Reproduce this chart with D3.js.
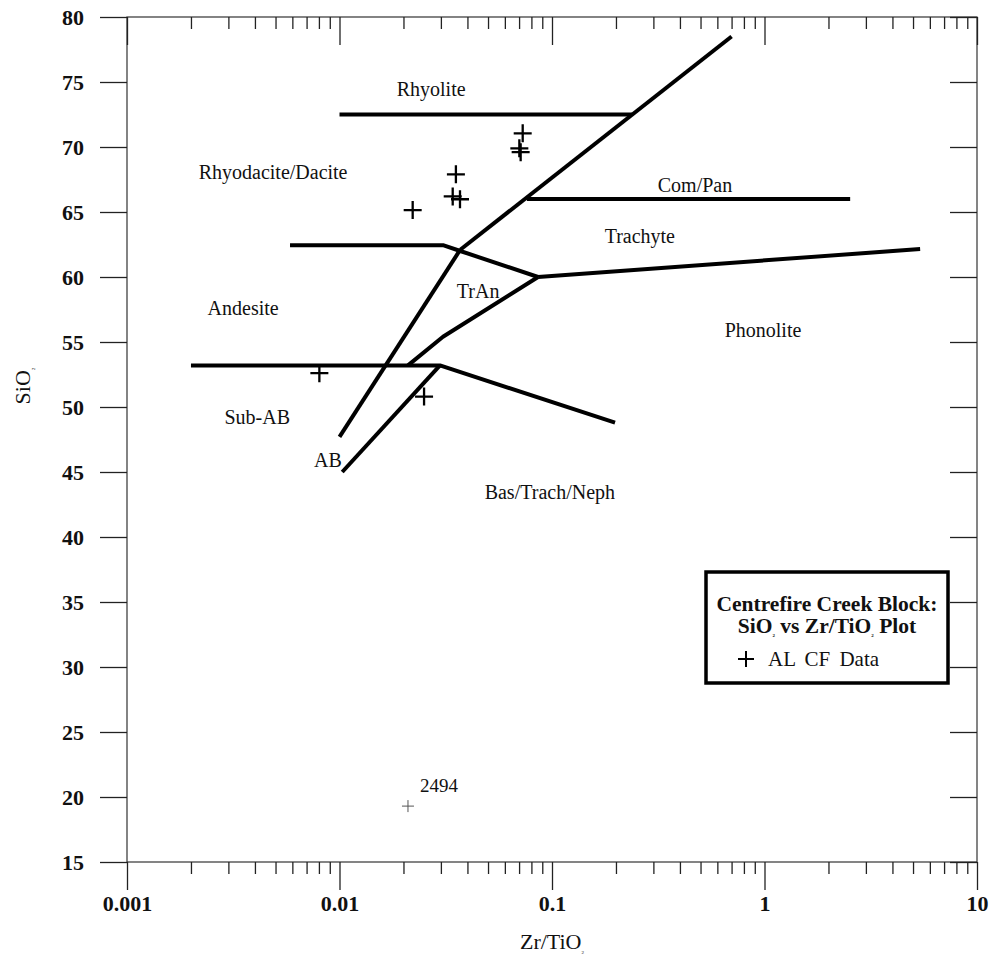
<!DOCTYPE html>
<html><head><meta charset="utf-8">
<script src="https://cdn.jsdelivr.net/npm/d3@7"></script>
<style>body{margin:0;background:#fff}</style>
</head><body>
<svg id="c" width="993" height="975"></svg>
<script>
// ---------- data ----------
const xTickValues = [0.001, 0.01, 0.1, 1, 10];
const xTickLabels = ["0.001", "0.01", "0.1", "1", "10"];
const yTickValues = [15, 20, 25, 30, 35, 40, 45, 50, 55, 60, 65, 70, 75, 80];

// classification boundaries (Zr/TiO2, SiO2)
const lineRhyolite      = [[0.01, 72.5], [0.238, 72.5]];
const lineRhyoTrach     = [[0.037, 62.1], [0.70, 78.5]];
const lineComPan        = [[0.0762, 66.0], [2.53, 66.0]];
const lineTrachPhon     = [[0.086, 60.0], [5.4, 62.15]];
const lineAndesiteTop   = [[0.00585, 62.45], [0.0307, 62.45], [0.037, 62.0], [0.086, 60.0]];
const lineAndesiteTrAn  = [[0.01, 47.7], [0.037, 62.1]];
const lineTrAnLower     = [[0.021, 53.2], [0.0307, 55.4], [0.086, 60.0]];
const lineSubABTop      = [[0.002, 53.2], [0.0297, 53.2], [0.198, 48.8]];
const lineABBas         = [[0.0103, 45.0], [0.0297, 53.2]];
const boundaryLines = [lineRhyolite, lineRhyoTrach, lineComPan, lineTrachPhon, lineAndesiteTop,
                       lineAndesiteTrAn, lineTrAnLower, lineSubABTop, lineABBas];

const fieldNames = ["Rhyolite", "Rhyodacite/Dacite", "Com/Pan", "Trachyte", "TrAn", "Andesite",
                    "Phonolite", "Sub-AB", "AB", "Bas/Trach/Neph"];
const fieldZr = [0.027, 0.00487, 0.471, 0.259, 0.0449, 0.00352, 0.984, 0.0041, 0.00883, 0.0977];
const fieldSi = [74.5, 68.1, 67.1, 63.15, 58.9, 57.6, 55.9, 49.2, 45.9, 43.5];

// AL CF Data samples
const sampleZr = [0.0728, 0.0702, 0.0712, 0.0353, 0.0341, 0.0369, 0.0221, 0.00804, 0.025];
const sampleSi = [71.05, 69.9, 69.6, 67.9, 66.2, 65.98, 65.15, 52.6, 50.8];
const outlierZr = [0.021];
const outlierSi = [19.3];
const outlierLabel = ["2494"];

// ---------- layout ----------
const L = 127, R = 977, T = 17, B = 862;
const svg = d3.select("#c");
const x = d3.scaleLog().domain([0.001, 10]).range([L, R]);
const y = d3.scaleLinear().domain([15, 80]).range([B, T]);
const serif = "'Liberation Serif','Times New Roman',serif";

const minorX = [];
for (let e = -3; e < 1; e++) for (let k = 2; k <= 9; k++) minorX.push(k * Math.pow(10, e));

function styleAxis(g) {
  g.select(".domain").remove();
  g.selectAll(".tick line").attr("stroke", "#222").attr("stroke-width", 1.3);
  g.selectAll("text").attr("font-family", serif).attr("font-weight", "bold")
    .attr("font-size", 22).attr("fill", "#111");
}

// frame
svg.append("rect").attr("x", L).attr("y", T).attr("width", R - L).attr("height", B - T)
  .attr("fill", "none").attr("stroke", "#333").attr("stroke-width", 1.2);

// left axis (outward)
svg.append("g").attr("transform", `translate(${L},0)`)
  .call(d3.axisLeft(y).tickValues(yTickValues).tickSize(27).tickPadding(16).tickSizeOuter(0)
    .tickFormat(d3.format("d"))).call(styleAxis);
// right axis (inward)
svg.append("g").attr("transform", `translate(${R},0)`)
  .call(d3.axisRight(y).tickValues(yTickValues).tickSize(-27).tickSizeOuter(0).tickFormat(""))
  .call(styleAxis);
// top axis (inward)
svg.append("g").attr("transform", `translate(0,${T})`)
  .call(d3.axisTop(x).tickValues(xTickValues).tickSize(-28).tickSizeOuter(0).tickFormat(""))
  .call(styleAxis);
svg.append("g").attr("transform", `translate(0,${T})`)
  .call(d3.axisTop(x).tickValues(minorX).tickSize(-12).tickSizeOuter(0).tickFormat(""))
  .call(styleAxis);
// bottom axis (outward)
svg.append("g").attr("transform", `translate(0,${B})`)
  .call(d3.axisBottom(x).tickValues(minorX).tickSize(12).tickSizeOuter(0).tickFormat(""))
  .call(styleAxis);
svg.append("g").attr("transform", `translate(0,${B})`)
  .call(d3.axisBottom(x).tickValues(xTickValues).tickSize(28).tickPadding(5).tickSizeOuter(0)
    .tickFormat((d, i) => xTickLabels[i])).call(styleAxis);

// axis titles
const xt = svg.append("text").attr("x", (L + R) / 2).attr("y", 949).attr("text-anchor", "middle")
  .attr("font-family", serif).attr("font-size", 22).attr("fill", "#111");
xt.append("tspan").text("Zr/TiO");
xt.append("tspan").attr("font-size", 5).attr("dy", 5).text("2");

const yt = svg.append("text").attr("transform", "translate(30,386) rotate(-90)")
  .attr("text-anchor", "middle").attr("font-family", serif).attr("font-size", 22).attr("fill", "#111");
yt.append("tspan").text("SiO");
yt.append("tspan").attr("font-size", 5).attr("dy", 5).text("2");

// boundary lines
const line = d3.line().x(d => x(d[0])).y(d => y(d[1]));
svg.append("g").selectAll("path").data(boundaryLines).join("path")
  .attr("d", line).attr("fill", "none").attr("stroke", "#000").attr("stroke-width", 4)
  .attr("stroke-linejoin", "round");

// field labels
svg.append("g").selectAll("text").data(fieldNames).join("text")
  .attr("x", (d, i) => x(fieldZr[i])).attr("y", (d, i) => y(fieldSi[i]))
  .attr("dy", "0.35em").attr("text-anchor", "middle")
  .attr("font-family", serif).attr("font-size", 20).attr("fill", "#111").text(d => d);

// samples
const plus = (s) => `M${-s},0H${s}M0,${-s}V${s}`;
svg.append("g").selectAll("path").data(sampleZr).join("path")
  .attr("transform", (d, i) => `translate(${x(d)},${y(sampleSi[i])})`)
  .attr("d", plus(9)).attr("stroke", "#000").attr("stroke-width", 2.3).attr("fill", "none");

svg.append("g").selectAll("path").data(outlierZr).join("path")
  .attr("transform", (d, i) => `translate(${x(d)},${y(outlierSi[i])})`)
  .attr("d", plus(6)).attr("stroke", "#555").attr("stroke-width", 1).attr("fill", "none");
svg.append("g").selectAll("text").data(outlierZr).join("text")
  .attr("x", (d) => x(d) + 12).attr("y", (d, i) => y(outlierSi[i]) - 14)
  .attr("font-family", serif).attr("font-size", 19).attr("fill", "#111").text((d, i) => outlierLabel[i]);

// legend
const lg = svg.append("g");
lg.append("rect").attr("x", 706).attr("y", 572).attr("width", 242).attr("height", 111)
  .attr("fill", "#fff").attr("stroke", "#000").attr("stroke-width", 3.5);
lg.append("text").attr("x", 827).attr("y", 611).attr("text-anchor", "middle")
  .attr("font-family", serif).attr("font-weight", "bold").attr("font-size", 21.5).attr("fill", "#111")
  .text("Centrefire Creek Block:");
const l2 = lg.append("text").attr("x", 827).attr("y", 633).attr("text-anchor", "middle")
  .attr("font-family", serif).attr("font-weight", "bold").attr("font-size", 21.5).attr("fill", "#111");
l2.append("tspan").text("SiO");
l2.append("tspan").attr("font-size", 5).attr("dy", 4).text("2");
l2.append("tspan").attr("dy", -4).text(" vs Zr/TiO");
l2.append("tspan").attr("font-size", 5).attr("dy", 4).text("2");
l2.append("tspan").attr("dy", -4).text(" Plot");
lg.append("path").attr("transform", "translate(746,659)").attr("d", plus(8))
  .attr("stroke", "#000").attr("stroke-width", 2);
lg.append("text").attr("x", 768).attr("y", 666).attr("font-family", serif).attr("font-size", 21)
  .attr("word-spacing", 4).attr("fill", "#111").text("AL CF Data");
</script>
</body></html>
